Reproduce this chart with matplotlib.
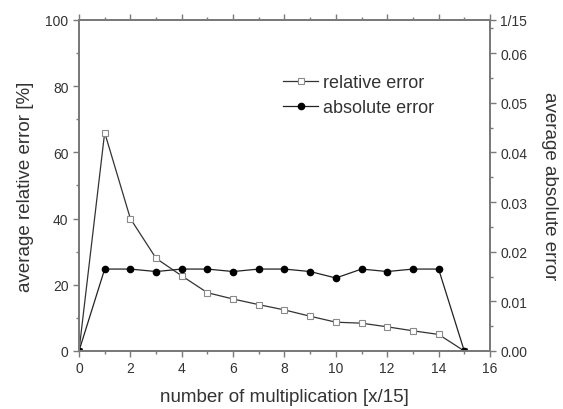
import matplotlib.pyplot as plt
from matplotlib.ticker import MultipleLocator, FixedLocator

plt.rcParams["font.family"] = ["Liberation Sans", "DejaVu Sans"]
plt.rcParams["font.size"] = 10

x = list(range(16))
relative_error = [0, 66, 40, 28, 22.7, 17.6, 15.7, 14, 12.4, 10.5, 8.7, 8.4, 7.3, 6.1, 5.0, 0]
absolute_error = [0, 0.0165, 0.0165, 0.016, 0.0165, 0.0165, 0.016, 0.0165, 0.0165, 0.016,
                  0.0147, 0.0165, 0.016, 0.0165, 0.0165, 0]

text_c = "#333333"
axis_c = "#7a7a7a"

fig = plt.figure(figsize=(5.63, 4.10), dpi=100)
ax = fig.add_axes([0.1403, 0.1415, 0.73, 0.8073])
ax2 = ax.twinx()

l1, = ax.plot(x, relative_error, color="#333333", lw=0.9, marker="s", ms=4.5,
              mfc="white", mec="#8a8a8a", mew=0.8, label="relative error")
l2, = ax2.plot(x, absolute_error, color="#222222", lw=0.9, marker="o", ms=4.5,
               mfc="black", mec="black", label="absolute error")

ax.set_xlim(0, 16)
ax.set_ylim(0, 100)
ax2.set_ylim(0, 1 / 15)

ax.xaxis.set_major_locator(MultipleLocator(2))
ax.xaxis.set_minor_locator(MultipleLocator(1))
ax.yaxis.set_major_locator(MultipleLocator(20))
ax.yaxis.set_minor_locator(MultipleLocator(10))

ticks2 = [0, 0.01, 0.02, 0.03, 0.04, 0.05, 0.06, 1 / 15]
labels2 = ["0.00", "0.01", "0.02", "0.03", "0.04", "0.05", "0.06", "1/15"]
ax2.yaxis.set_major_locator(FixedLocator(ticks2))
ax2.set_yticklabels(labels2)
ax2.yaxis.set_minor_locator(MultipleLocator(0.005))

for a in (ax, ax2):
    for s in a.spines.values():
        s.set_color(axis_c)
        s.set_linewidth(1.4)
    a.tick_params(which="both", direction="out", color=axis_c, labelcolor=text_c, width=1)
    a.tick_params(which="major", length=4)
    a.tick_params(which="minor", length=2.5)
ax.tick_params(axis="x", which="both", top=True)

ax.set_xlabel("number of multiplication [x/15]", color=text_c, fontsize=13.5, labelpad=9)
ax.set_ylabel("average relative error [%]", color=text_c, fontsize=13.5, labelpad=8)
ax2.set_ylabel("average absolute error", color=text_c, fontsize=13.5, rotation=270, labelpad=22)

leg = ax.legend(handles=[l1, l2], loc="upper left", bbox_to_anchor=(0.458, 0.885),
                frameon=False, numpoints=1, handlelength=1.9, handletextpad=0.3,
                labelspacing=0.42, fontsize=13)
for t in leg.get_texts():
    t.set_color(text_c)

fig.savefig("out.png", dpi=100)
